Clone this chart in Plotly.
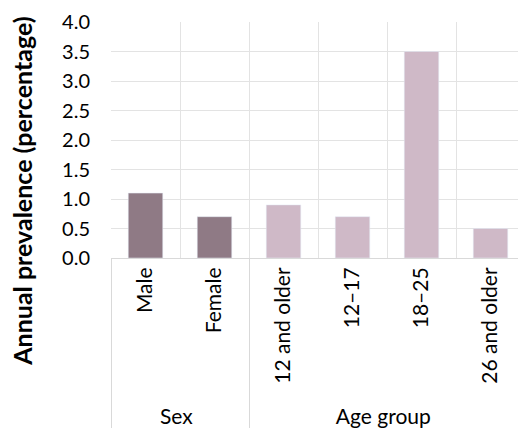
import plotly.graph_objects as go

groups = ["Sex", "Sex", "Age group", "Age group", "Age group", "Age group"]
categories = ["Male", "Female", "12 and older", "12\u201317", "18\u201325", "26 and older"]
values = [1.1, 0.7, 0.9, 0.7, 3.5, 0.5]
bar_colors = ["#8f7a85", "#8f7a85", "#cfb9c7", "#cfb9c7", "#cfb9c7", "#cfb9c7"]
y_ticks = [0, 0.5, 1.0, 1.5, 2.0, 2.5, 3.0, 3.5, 4.0]

fig = go.Figure(
    go.Bar(
        x=[groups, categories],
        y=values,
        marker_color=bar_colors,
        width=0.5,
    )
)

# page body has an 8px margin, so the figure is offset by 8px
fig.update_layout(
    width=518,
    height=426,
    paper_bgcolor="white",
    plot_bgcolor="white",
    margin=dict(l=103, r=1, t=14, b=176),
    font=dict(family="Lato, Open Sans, sans-serif", size=20, color="#000000"),
    showlegend=False,
)

fig.update_xaxes(
    tickson="boundaries",
    showgrid=True,
    gridcolor="#e3e3e3",
    gridwidth=1,
    showline=True,
    linecolor="#d9d9d9",
    tickangle=-90,
    ticks="",
    showdividers=True,
    dividercolor="#d9d9d9",
    dividerwidth=1,
    tickfont=dict(size=21),
)

fig.update_yaxes(
    range=[0, 4.0],
    tickvals=y_ticks,
    tickformat=".1f",
    showgrid=True,
    gridcolor="#e3e3e3",
    zeroline=False,
    ticklabelstandoff=20,
    tickfont=dict(size=20),
)

# y title is longer than the plot, so place it as a rotated annotation
fig.add_annotation(
    text="<b>Annual prevalence (percentage)</b>",
    textangle=-90,
    xref="paper",
    yref="paper",
    x=-0.215,
    y=0.285,
    xanchor="center",
    yanchor="middle",
    showarrow=False,
    font=dict(size=25),
)

fig.write_html("out.html")
